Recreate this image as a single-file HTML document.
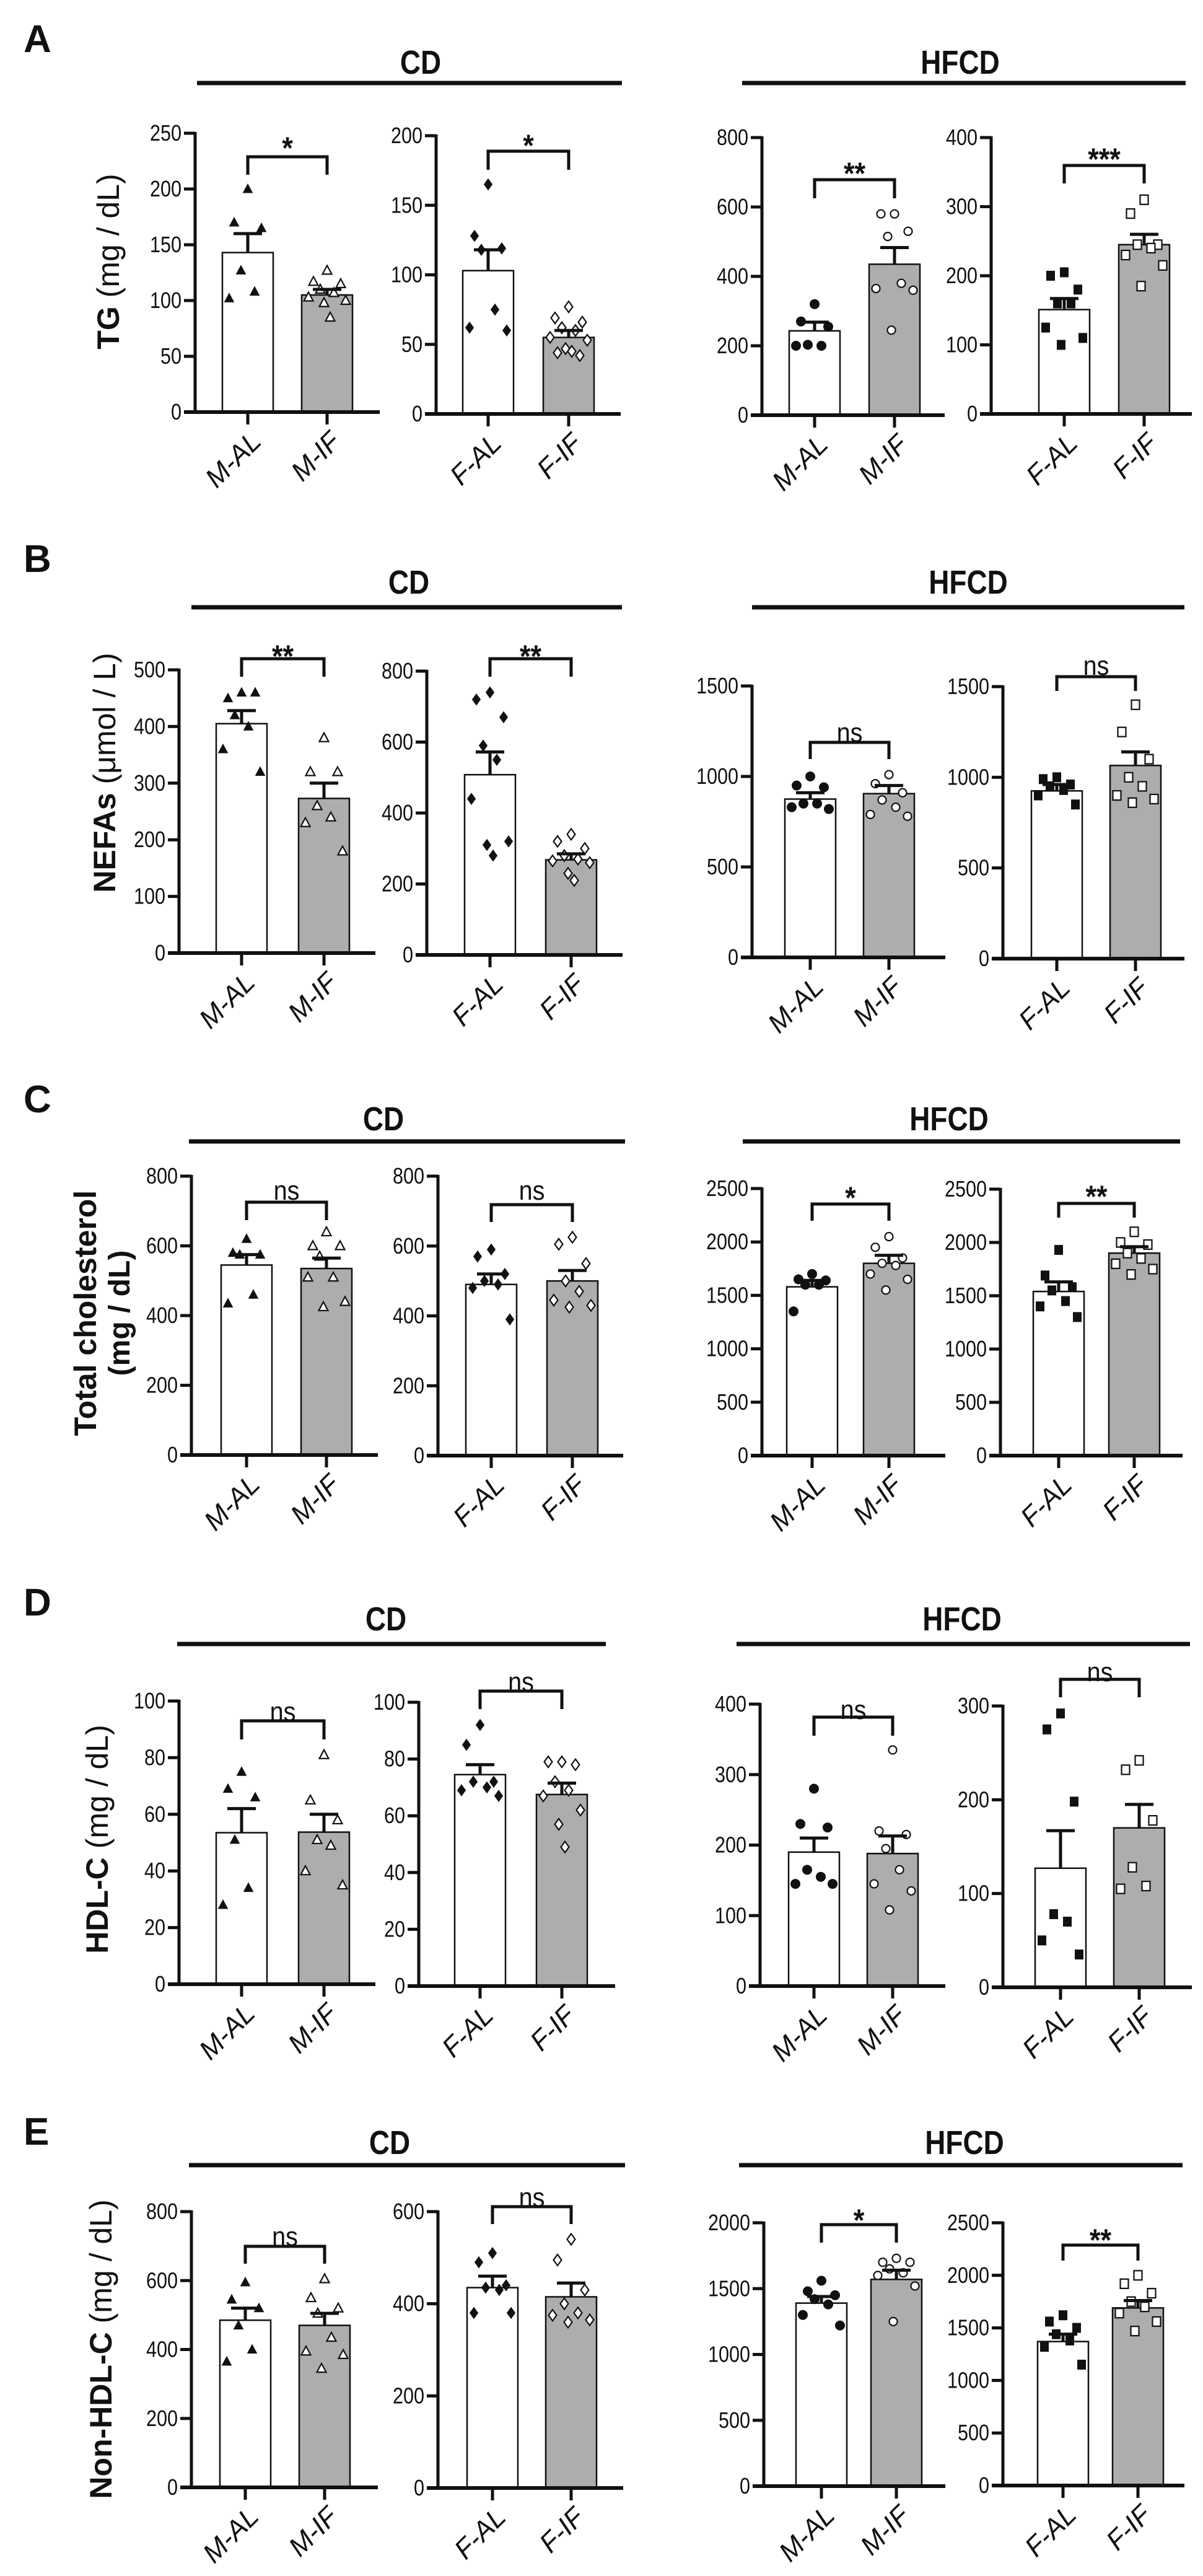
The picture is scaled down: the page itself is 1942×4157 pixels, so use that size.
<!DOCTYPE html>
<html><head><meta charset="utf-8"><title>Lipid panels</title>
<style>
html,body{margin:0;padding:0;background:#fff;}
svg{display:block;font-family:"Liberation Sans",Arial,sans-serif;}
</style></head>
<body>
<svg id="fig" width="1942" height="4157" viewBox="0 0 1942 4157" xmlns="http://www.w3.org/2000/svg"></svg>
<script>
// ===== DATA =====
const panelLetters = ['A','B','C','D','E'];
const groupLabelsM = ['M-AL','M-IF'];
const groupLabelsF = ['F-AL','F-IF'];
const tgMeans  = [[143,105],[103,55],[243,435],[151,245]];
const tgErr    = [[160,110],[118,60],[268,483],[167,260]];
const tgSig    = ['*','*','**','***'];
const tgPtsAL  = [[200,170,165,127,108,102],[165,128,119,118,75,62,60],[320,270,255,203,200,200],[205,200,180,160,160,125,110,100]];
const tgPtsIF  = [[127,117,115,110,107,103,100,98,85],[77,69,66,62,60,55,53,47,45,44,42],[580,580,530,515,380,365,360,245],[310,290,245,245,240,230,215,185]];
const tgMax    = [250,200,800,400];
const tgStep   = [50,50,200,100];

const nefaMeans = [[405,273],[508,268],[875,905],[925,1065]];
const nefaErr   = [[428,300],[572,285],[910,950],[960,1140]];
const nefaSig   = ['**','**','ns','ns'];
const nefaPtsAL = [[460,450,460,420,400,360,320],[740,720,670,590,550,440,320,310,280],[1000,950,940,850,850,830,820],[1000,990,960,950,930,900,850]];
const nefaPtsIF = [[380,320,320,260,240,230,180],[340,320,300,280,270,265,260,230,210],[1010,960,910,870,830,790,780],[1400,1250,1100,1000,950,900,880,860]];
const nefaMax   = [500,800,1500,1500];
const nefaStep  = [100,200,500,500];

const tcMeans = [[545,535],[490,500],[1580,1800],[1540,1900]];
const tcErr   = [[575,565],[520,530],[1640,1875],[1630,1960]];
const tcSig   = ['ns','ns','*','**'];
const tcPtsAL = [[620,580,575,575,460,435],[590,570,520,500,490,480,390],[1700,1650,1640,1600,1600,1350],[1930,1690,1580,1550,1450,1400,1300]];
const tcPtsIF = [[640,600,600,570,510,510,440,425],[625,605,550,500,470,445,430,425],[2050,1950,1850,1800,1780,1700,1650,1550],[2100,2000,1980,1900,1850,1800,1750,1700]];
const tcMax   = [800,800,2500,2500];
const tcStep  = [200,200,500,500];

const hdlMeans = [[53.5,53.7],[74.5,67.5],[190,188],[127,170]];
const hdlErr   = [[62,60],[78,71.5],[210,213],[167,195]];
const hdlSig   = ['ns','ns','ns','ns'];
const hdlPtsAL = [[75,69,66,51,34,28],[92,85,72,72,70,69,67],[280,230,225,165,155,145,145],[292,275,198,78,70,50,35]];
const hdlPtsIF = [[81,65,58,51,49,40,35],[79,79,78,72,69,67,62,57,49],[335,220,215,195,165,145,135,108],[242,232,178,128,108,105]];
const hdlMax   = [100,100,400,300];
const hdlStep  = [20,20,100,100];

const nhMeans = [[485,470],[435,415],[1390,1570],[1370,1690]];
const nhErr   = [[520,505],[460,445],[1440,1640],[1440,1760]];
const nhSig   = ['ns','ns','*','**'];
const nhPtsAL = [[595,545,520,470,400,365],[510,490,440,435,430,380,380],[1560,1480,1450,1420,1380,1300,1220],[1620,1560,1500,1440,1380,1320,1150]];
const nhPtsIF = [[605,550,520,505,435,395,385,345],[540,495,430,400,380,375,365,360],[1730,1700,1700,1650,1620,1600,1520,1250],[2000,1920,1830,1750,1700,1640,1560,1470]];
const nhMax   = [800,600,2000,2500];
const nhStep  = [200,200,500,500];

// ===== LAYOUT (pixel geometry, not data) =====
const panels = [
 {d:[tgMeans,tgErr,tgSig,tgPtsAL,tgPtsIF,tgMax,tgStep], letterY:62, titleY:100, lineY:134, cdLine:[318,1004], hfLine:[1198,1914], cdC:679, hfC:1550,
  yt:{x:174,y:422,parts:[['TG',true],[' (mg / dL)',false]]},
  ch:[{ax:315,xe:613,base:665,top:215,c:[400,528],br:253,bd:282,st:232},
      {ax:704,xe:1002,base:668,top:219,c:[788,918],br:244,bd:274,st:228},
      {ax:1230,xe:1525,base:670,top:222,c:[1315,1444],br:290,bd:320,st:273},
      {ax:1600,xe:1924,base:668,top:222,c:[1718,1847],br:267,bd:296,st:250}]},
 {d:[nefaMeans,nefaErr,nefaSig,nefaPtsAL,nefaPtsIF,nefaMax,nefaStep], letterY:901, titleY:939, lineY:980, cdLine:[309,1004], hfLine:[1214,1912], cdC:660, hfC:1563,
  yt:{x:168,y:1247,parts:[['NEFAs',true],[' (μmol / L)',false]]},
  ch:[{ax:289,xe:606,base:1538,top:1081,c:[390,523],br:1063,bd:1092,st:1052},
      {ax:689,xe:1005,base:1541,top:1083,c:[791,922],br:1063,bd:1092,st:1052},
      {ax:1214,xe:1526,base:1545,top:1107,c:[1308,1435],br:1198,bd:1225,st:1183},
      {ax:1619,xe:1912,base:1547,top:1108,c:[1706,1833],br:1092,bd:1115,st:1075}]},
 {d:[tcMeans,tcErr,tcSig,tcPtsAL,tcPtsIF,tcMax,tcStep], letterY:1773, titleY:1805, lineY:1842, cdLine:[305,1009], hfLine:[1199,1905], cdC:619, hfC:1532,
  yt:{x:137,y:2119,parts:[['Total cholesterol',true]],x2:193,parts2:[['(mg / dL)',true]]},
  ch:[{ax:309,xe:610,base:2348,top:1898,c:[398,527],br:1940,bd:1969,st:1922},
      {ax:707,xe:1006,base:2349,top:1898,c:[793,924],br:1944,bd:1972,st:1922},
      {ax:1230,xe:1526,base:2349,top:1918,c:[1311,1435],br:1943,bd:1970,st:1926},
      {ax:1615,xe:1909,base:2349,top:1919,c:[1709,1831],br:1942,bd:1965,st:1924}]},
 {d:[hdlMeans,hdlErr,hdlSig,hdlPtsAL,hdlPtsIF,hdlMax,hdlStep], letterY:2585, titleY:2612, lineY:2653, cdLine:[286,978], hfLine:[1189,1921], cdC:623, hfC:1553,
  yt:{x:156,y:2968,parts:[['HDL-C',true],[' (mg / dL)',false]]},
  ch:[{ax:289,xe:606,base:3202,top:2745,c:[390,523],br:2777,bd:2807,st:2763},
      {ax:676,xe:993,base:3205,top:2747,c:[775,907],br:2729,bd:2758,st:2715},
      {ax:1227,xe:1526,base:3205,top:2750,c:[1314,1441],br:2771,bd:2801,st:2760},
      {ax:1619,xe:1924,base:3207,top:2753,c:[1712,1839],br:2710,bd:2739,st:2699}]},
 {d:[nhMeans,nhErr,nhSig,nhPtsAL,nhPtsIF,nhMax,nhStep], letterY:3439, titleY:3457, lineY:3494, cdLine:[305,1009], hfLine:[1193,1909], cdC:629, hfC:1557,
  yt:{x:162,y:3791,parts:[['Non-HDL-C',true],[' (mg / dL)',false]]},
  ch:[{ax:309,xe:610,base:4014,top:3569,c:[396,524],br:3625,bd:3653,st:3610},
      {ax:707,xe:1006,base:4015,top:3569,c:[795,922],br:3561,bd:3589,st:3547},
      {ax:1233,xe:1526,base:4012,top:3587,c:[1326,1447],br:3590,bd:3619,st:3576},
      {ax:1619,xe:1912,base:4011,top:3587,c:[1716,1837],br:3623,bd:3648,st:3608}]}
];
const markerKinds = [['tri-filled','tri-open'],['dia-filled','dia-open'],['circ-filled','circ-open'],['sq-filled','sq-open']];
const jitter = [0,-22,22,-11,11,-30,30,-5,5,-18,18];

const NS='http://www.w3.org/2000/svg';
const svg=document.getElementById('fig');
function mk(tag,attrs,parent){const e=document.createElementNS(NS,tag);for(const k in attrs)e.setAttribute(k,attrs[k]);(parent||svg).appendChild(e);return e;}

function drawMarker(g,kind,x,y){
  const filled=kind.endsWith('filled');
  const fill=filled?'#111':'#fff';
  const sw=filled?1:2.2;
  let m;
  if(kind.startsWith('tri')) m=mk('polygon',{points:`${x},${y-8} ${x-7.5},${y+6} ${x+7.5},${y+6}`,fill,stroke:'#111','stroke-width':sw},g);
  else if(kind.startsWith('dia')) m=mk('polygon',{points:`${x},${y-9} ${x-6.5},${y} ${x},${y+9} ${x+6.5},${y}`,fill,stroke:'#111','stroke-width':sw},g);
  else if(kind.startsWith('circ')) m=mk('circle',{cx:x,cy:y,r:filled?7.5:6.5,fill,stroke:'#111','stroke-width':sw},g);
  else m=mk('rect',{x:x-6.5,y:y-7.5,width:13,height:15,fill,stroke:'#111','stroke-width':sw},g);
  
  
}

panels.forEach((p,pi)=>{
  const [means,errs,sigs,ptsAL,ptsIF,maxs,steps]=p.d;
  const pg=mk('g',{});
  
  
  const lt=mk('text',{x:38,y:p.letterY+22,'font-size':62,'font-weight':'bold',fill:'#111'},pg);
  lt.textContent=panelLetters[pi];
  
  
  [['CD',p.cdC,p.cdLine],['HFCD',p.hfC,p.hfLine]].forEach(([t,cx,ln])=>{
    const tx=mk('text',{transform:`translate(${cx},${p.titleY+19}) scale(0.85,1)`,'font-size':54,'font-weight':'bold','text-anchor':'middle',fill:'#111'},pg);
    tx.textContent=t;
    
    
    const l=mk('line',{x1:ln[0],x2:ln[1],y1:p.lineY,y2:p.lineY,stroke:'#111','stroke-width':7},pg);
    
    
  });
  const yt=mk('text',{transform:`translate(${p.yt.x+18},${p.yt.y}) rotate(-90)`,'font-size':50,'text-anchor':'middle',fill:'#111'},pg);
  
  
  p.yt.parts.forEach(([s,b])=>{const ts=mk('tspan',{'font-weight':b?'bold':'normal'},yt);ts.textContent=s;});
  if(p.yt.parts2){
    const y2=mk('text',{transform:`translate(${p.yt.x2+16},${p.yt.y}) rotate(-90)`,'font-size':48,'text-anchor':'middle',fill:'#111'},pg);
    
    
    p.yt.parts2.forEach(([s,b])=>{const ts=mk('tspan',{'font-weight':b?'bold':'normal'},y2);ts.textContent=s;});
  }
  p.ch.forEach((c,ci)=>{
    const g=mk('g',{},pg);
    
    
    const max=maxs[ci], step=steps[ci];
    const Y=v=>c.base-(v/max)*(c.base-c.top);
    const bw=82;
    [0,1].forEach(k=>{
      const yv=Y(means[ci][k]);
      const r=mk('rect',{x:c.c[k]-bw/2,y:yv,width:bw,height:c.base-yv,fill:k?'#adadad':'#fff',stroke:'#111','stroke-width':2.5},g);
      
      
    });
    [ptsAL[ci],ptsIF[ci]].forEach((arr,k)=>{
      arr.forEach((v,i)=>drawMarker(g,markerKinds[ci][k],c.c[k]+jitter[i%jitter.length],Y(v)));
    });
    [0,1].forEach(k=>{
      const y0=Y(means[ci][k]),y1=Y(errs[ci][k]);
      const e=mk('g',{},g);
      
      
      mk('line',{x1:c.c[k],x2:c.c[k],y1:y0,y2:y1,stroke:'#111','stroke-width':5},e);
      mk('line',{x1:c.c[k]-23,x2:c.c[k]+23,y1:y1,y2:y1,stroke:'#111','stroke-width':5},e);
    });
    const ya=mk('line',{x1:c.ax,x2:c.ax,y1:c.top-2,y2:c.base,stroke:'#111','stroke-width':5},g);
    
    
    const xa=mk('line',{x1:c.ax-18,x2:c.xe,y1:c.base,y2:c.base,stroke:'#111','stroke-width':6},g);
    
    
    for(let v=0;v<=max+1e-9;v+=step){
      const y=Y(v);
      mk('line',{x1:c.ax-18,x2:c.ax,y1:y,y2:y,stroke:'#111','stroke-width':5},g);
      const tl=mk('text',{transform:`translate(${c.ax-22},${y+12}) scale(0.85,1)`,'font-size':36,'text-anchor':'end',fill:'#111'},g);
      tl.textContent=String(v);
      
      
    }
    const labs=ci%2===0?groupLabelsM:groupLabelsF;
    [0,1].forEach(k=>{
      mk('line',{x1:c.c[k],x2:c.c[k],y1:c.base,y2:c.base+20,stroke:'#111','stroke-width':5},g);
      const xl=mk('text',{transform:`translate(${c.c[k]+24},${c.base+50}) rotate(-45)`,'font-size':44,'font-style':'italic','text-anchor':'end',fill:'#111'},g);
      xl.textContent=labs[k];
      
      
    });
    const b=mk('path',{d:`M${c.c[0]},${c.bd} V${c.br} H${c.c[1]} V${c.bd}`,fill:'none',stroke:'#111','stroke-width':5},g);
    
    
    const s=sigs[ci];
    const st=mk('text',{transform:`translate(${(c.c[0]+c.c[1])/2},${s==='ns'?c.st+14:c.st+24}) scale(0.9,1)`,'font-size':s==='ns'?44:50,'font-weight':s==='ns'?'normal':'bold','text-anchor':'middle',fill:'#111'},g);
    st.textContent=s;
    
    
  });
});
</script>
</body></html>
